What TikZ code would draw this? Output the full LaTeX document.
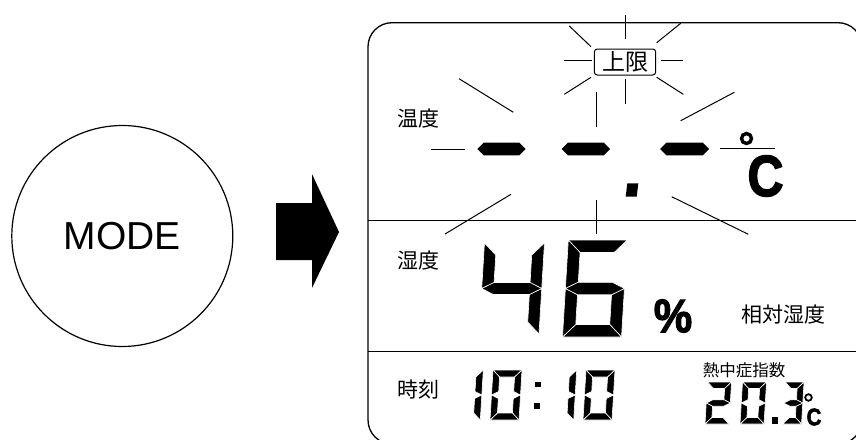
\documentclass[tikz,border=0pt]{standalone}
\usepackage{fontspec}
\setmainfont{Liberation Sans}
\newfontfamily\cjk{Noto Sans CJK JP}
\newfontfamily\heavy{Liberation Sans Bold}[FakeBold=2.5]
\usetikzlibrary{calc}
\tikzset{
  segfill/.style={fill=black, draw=white, line width=0.6pt, line join=miter},
  ray/.style={line width=1pt},
  panelline/.style={line width=1.3pt},
  lbl/.style={inner sep=0pt, font=\cjk\fontsize{21}{24}\selectfont},
}
\newcommand\dsega{\fill[segfill] (0,-\sgH) -- (\sgW,-\sgH) -- (\sgW-\sgT,-\sgH+\sgT) -- (\sgT,-\sgH+\sgT) -- cycle;}
\newcommand\dsegb{\fill[segfill] (\sgW,-\sgH) -- (\sgW,-\sgHh) -- (\sgW-\sgT,-\sgHh-\sgTh) -- (\sgW-\sgT,-\sgH+\sgT) -- cycle;}
\newcommand\dsegc{\fill[segfill] (\sgW,-\sgHh) -- (\sgW,0) -- (\sgW-\sgT,-\sgT) -- (\sgW-\sgT,-\sgHh+\sgTh) -- cycle;}
\newcommand\dsegd{\fill[segfill] (0,0) -- (\sgW,0) -- (\sgW-\sgT,-\sgT) -- (\sgT,-\sgT) -- cycle;}
\newcommand\dsege{\fill[segfill] (0,-\sgHh) -- (\sgT,-\sgHh+\sgTh) -- (\sgT,-\sgT) -- (0,0) -- cycle;}
\newcommand\dsegf{\fill[segfill] (0,-\sgH) -- (\sgT,-\sgH+\sgT) -- (\sgT,-\sgHh-\sgTh) -- (0,-\sgHh) -- cycle;}
\newcommand\dsegg{\fill[segfill] (0,-\sgHh) -- (\sgT,-\sgHh-\sgTh) -- (\sgW-\sgT,-\sgHh-\sgTh) -- (\sgW,-\sgHh) -- (\sgW-\sgT,-\sgHh+\sgTh) -- (\sgT,-\sgHh+\sgTh) -- cycle;}
\newcommand\sevenseg[6]{%
  \begin{scope}[shift={(#1,#2)},xslant=0.06]
    \def\sgW{#3}\def\sgH{#4}\def\sgT{#5}%
    \pgfmathsetmacro\sgHh{#4/2}\pgfmathsetmacro\sgTh{#5/2}%
    \foreach \s in {#6}{\csname dseg\s\endcsname}
  \end{scope}}
\begin{document}
\begin{tikzpicture}[x=1pt,y=-1pt]
\useasboundingbox (0,0) rectangle (856,439);
% MODE button
\node[circle, draw, line width=1.2pt, minimum size=221pt, inner sep=0pt,
      font=\fontsize{39}{40}\selectfont] (mode) at (122.3,236) {MODE};
% block arrow
\fill (276,203) -- (312,203) -- (312,174) -- (339,232) -- (312,288) -- (312,260) -- (276,260) -- cycle;
% panel
\draw[panelline, rounded corners=24pt] (368,22.7) rectangle (862,444);
\draw[line width=1pt] (368,220.7) -- (862,220.7);
\draw[line width=1pt] (368,351.7) -- (862,351.7);
% upper limit box
\node[draw, rounded corners=3pt, line width=1pt, minimum width=61.4pt, minimum height=26pt,
      inner sep=0pt, font=\cjk\fontsize{23}{26}\selectfont] (ul) at (625,62) {上限};
% small rays
\draw[ray] (625,15) -- (625,39.3);
\draw[ray] (569.3,26) -- (591,46.7);
\draw[ray] (680.7,23.3) -- (656.7,42.7);
\draw[ray] (564,60.7) -- (591.7,60.7);
\draw[ray] (661,60.7) -- (683.3,60.7);
\draw[ray] (564.3,94.3) -- (591,77.3);
\draw[ray] (656.7,77.3) -- (683.3,94.3);
\draw[ray] (625,79.3) -- (625,104);
% big rays
\draw[ray] (459,78.7) -- (513.3,112.3);
\draw[ray] (596,92.3) -- (596,126.7);
\draw[ray] (734.3,92.3) -- (680.7,120.7);
\draw[ray] (430.7,149) -- (465,149);
\draw[ray] (720,148.5) -- (775,148.5);
\draw[ray] (511,194.3) -- (445,234);
\draw[ray] (596,200) -- (596,234.3);
\draw[ray] (671.7,196.7) -- (748.3,234.3);
% dashes
\foreach \xa/\xb in {477.3/525.7, 561.7/610, 660/709}{
  \fill (\xa,149) -- (\xa+6.3,142.7) -- (\xb-6.3,142.7) -- (\xb,149) -- (\xb-6.3,155.3) -- (\xa+6.3,155.3) -- cycle;}
% decimal point
\fill (627.3,183.3) -- (638.3,183.3) -- (636.7,196.7) -- (625.7,196.7) -- cycle;
% degree C (big)
\draw[line width=3.4pt] (746.5,138.5) circle (5pt);
\node[inner sep=0pt, font=\heavy\fontsize{58}{60}\selectfont, xscale=0.86] (bigC) at (765.5,176) {C};
% labels
\node[lbl] (temp) at (418,119) {温度};
\node[lbl] (hum) at (418,261) {湿度};
\node[lbl] (time) at (418,390) {時刻};
\node[lbl] (rh) at (783,315) {相対湿度};
\node[lbl, font=\cjk\fontsize{16.5}{18}\selectfont] (wbgt) at (744,370) {熱中症指数};
% 46 %
\sevenseg{479}{334}{60}{91}{12}{b,c,f,g}
\sevenseg{562.5}{337}{59}{97}{12.5}{a,c,d,e,f,g}
\node[inner sep=0pt, font=\heavy\fontsize{47}{50}\selectfont, xscale=0.92] (pct) at (673,316) {\%};
% 10:10
\sevenseg{450.3}{420}{30}{50}{7}{b,c}
\sevenseg{490}{420}{29}{50}{7}{a,b,c,d,e,f}
\fill (534.5,381.7) rectangle (540.5,387.2);
\fill (533.5,403.3) rectangle (539.5,408.8);
\sevenseg{543.7}{420}{30}{50}{7}{b,c}
\sevenseg{583}{420}{29}{50}{7}{a,b,c,d,e,f}
% 20.3 C
\sevenseg{705}{424}{24}{42}{6.5}{a,b,g,e,d}
\sevenseg{740}{424}{24}{42}{6.5}{a,b,c,d,e,f}
\fill (771.7,416.7) rectangle (778.3,424);
\sevenseg{782.5}{424}{19}{42}{6.5}{a,b,c,d,g}
\draw[line width=1.8pt] (808.5,397.5) circle (3.3pt);
\node[inner sep=0pt, font=\heavy\fontsize{24}{26}\selectfont, xscale=0.85] (smallC) at (814,417) {C};
\end{tikzpicture}
\end{document}
